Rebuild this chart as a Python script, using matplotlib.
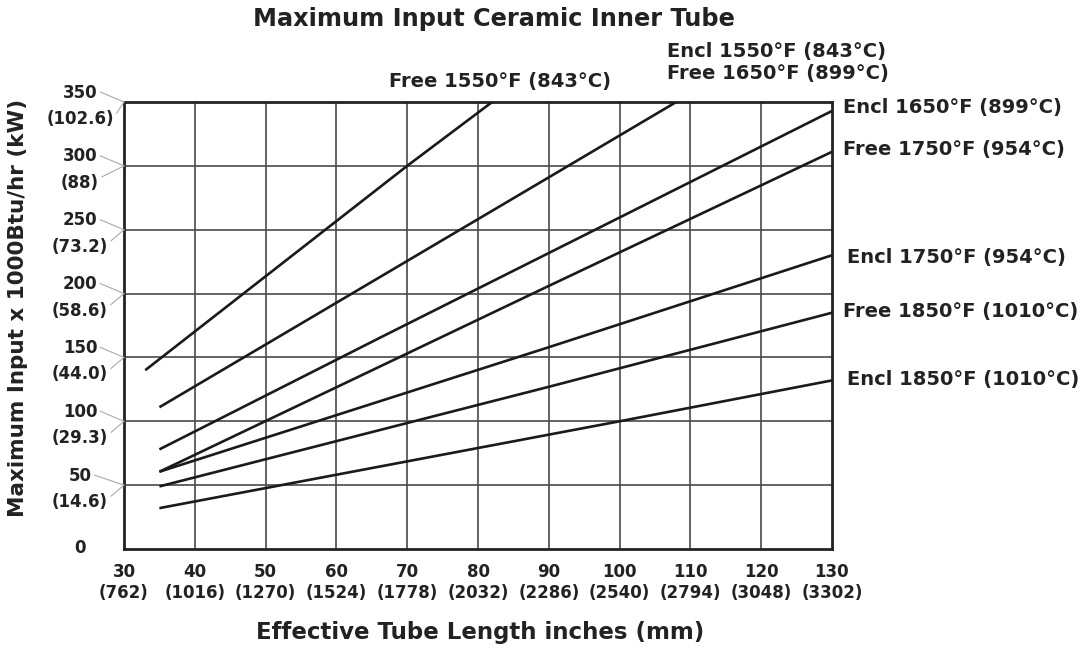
import numpy as np
import matplotlib
matplotlib.use('Agg')
import matplotlib.pyplot as plt
from matplotlib.lines import Line2D

plt.rcParams['font.family'] = ['DejaVu Sans']
plt.rcParams['font.weight'] = 'bold'

# readings: tube length (in) vs max input (1000 Btu/hr)
free1550_x = [33, 70, 82]
free1550_y = [140, 300, 350]
encl1550_x = [35, 90, 108]
encl1550_y = [111, 291, 350]
encl1650_x = [35, 66, 130]
encl1650_y = [78, 165, 343]
free1750_x = [35, 90, 130]
free1750_y = [60.5, 206, 311]
encl1750_x = [35, 90, 130]
encl1750_y = [60.5, 158, 230]
free1850_x = [35, 90, 130]
free1850_y = [49, 127, 185]
encl1850_x = [35, 100, 130]
encl1850_y = [32, 100, 132]

x_ticks = [30, 40, 50, 60, 70, 80, 90, 100, 110, 120, 130]
x_mm = ['(762)', '(1016)', '(1270)', '(1524)', '(1778)', '(2032)',
        '(2286)', '(2540)', '(2794)', '(3048)', '(3302)']
y_ticks = [50, 100, 150, 200, 250, 300, 350]
y_kw = ['(14.6)', '(29.3)', '(44.0)', '(58.6)', '(73.2)', '(88)', '(102.6)']

W, H = 1086, 649
fig = plt.figure(figsize=(W / 100, H / 100), dpi=100)
ax = fig.add_axes([124 / W, 1 - 549 / H, (832 - 124) / W, (549 - 102) / H])
ax.set_xlim(30, 130)
ax.set_ylim(0, 350)

for xv in x_ticks[1:-1]:
    ax.axvline(xv, color='#4a4a4a', lw=1.2, zorder=1)
for yv in y_ticks[:-1]:
    ax.axhline(yv, color='#4a4a4a', lw=1.2, zorder=1)

series = [(free1550_x, free1550_y), (encl1550_x, encl1550_y),
          (encl1650_x, encl1650_y), (free1750_x, free1750_y),
          (encl1750_x, encl1750_y), (free1850_x, free1850_y),
          (encl1850_x, encl1850_y)]
for xs, ys in series:
    ax.plot(xs, ys, color='#1a1a1a', lw=1.9, solid_capstyle='butt', zorder=3)

ax.set_xticks([])
ax.set_yticks([])
for s in ax.spines.values():
    s.set_linewidth(2.0)
    s.set_color('#222222')


def ftext(px, py, s, **kw):
    return fig.text(px / W, 1 - py / H, s, color='#222222', fontweight='bold', **kw)


tick_fs = 12
# x tick labels
for xv, mm in zip(x_ticks, x_mm):
    px = 124 + (xv - 30) * (832 - 124) / 100
    ftext(px, 572, str(xv), ha='center', va='center', fontsize=tick_fs)
    ftext(px, 593, mm, ha='center', va='center', fontsize=tick_fs)

# y tick labels with leader lines
upper, lower = [], []
grid_py = []
for yv, kw in zip(y_ticks, y_kw):
    py = 549 - yv * (549 - 102) / 350
    grid_py.append(py)
    upper.append(ftext(80, py - 9.5, str(yv), ha='center', va='center', fontsize=tick_fs))
    lower.append(ftext(80, py + 17, kw, ha='center', va='center', fontsize=tick_fs))
ftext(80, 548, '0', ha='center', va='center', fontsize=tick_fs)

fig.canvas.draw()
r = fig.canvas.get_renderer()
for t_up, t_lo, py in zip(upper, lower, grid_py):
    b1 = t_up.get_window_extent(r)
    b2 = t_lo.get_window_extent(r)
    x1 = b1.x1 + 3
    y1 = H - (py - 10)
    x2 = b2.x1 + 3
    y2 = H - (py + 11)
    for xa, ya in [(x1, y1), (x2, y2)]:
        fig.add_artist(Line2D([xa / W, 124 / W], [ya / H, 1 - py / H],
                              transform=fig.transFigure, color='#aaaaaa', lw=0.8))

# series labels
lab_fs = 14
ftext(500, 81, 'Free 1550°F (843°C)', ha='center', va='center', fontsize=lab_fs)
ftext(667, 52, 'Encl 1550°F (843°C)', ha='left', va='center', fontsize=lab_fs)
ftext(667, 73, 'Free 1650°F (899°C)', ha='left', va='center', fontsize=lab_fs)
ftext(843, 108, 'Encl 1650°F (899°C)', ha='left', va='center', fontsize=lab_fs)
ftext(843, 149, 'Free 1750°F (954°C)', ha='left', va='center', fontsize=lab_fs)
ftext(847, 257, 'Encl 1750°F (954°C)', ha='left', va='center', fontsize=lab_fs)
ftext(843, 312, 'Free 1850°F (1010°C)', ha='left', va='center', fontsize=lab_fs)
ftext(847, 379, 'Encl 1850°F (1010°C)', ha='left', va='center', fontsize=lab_fs)

ftext(494, 19, 'Maximum Input Ceramic Inner Tube', ha='center', va='center', fontsize=17.3)
ftext(480, 633, 'Effective Tube Length inches (mm)', ha='center', va='center', fontsize=16.5)
ftext(18, 308, 'Maximum Input x 1000Btu/hr (kW)', ha='center', va='center',
      rotation=90, fontsize=15.5)

fig.savefig('out.png', dpi=100)
